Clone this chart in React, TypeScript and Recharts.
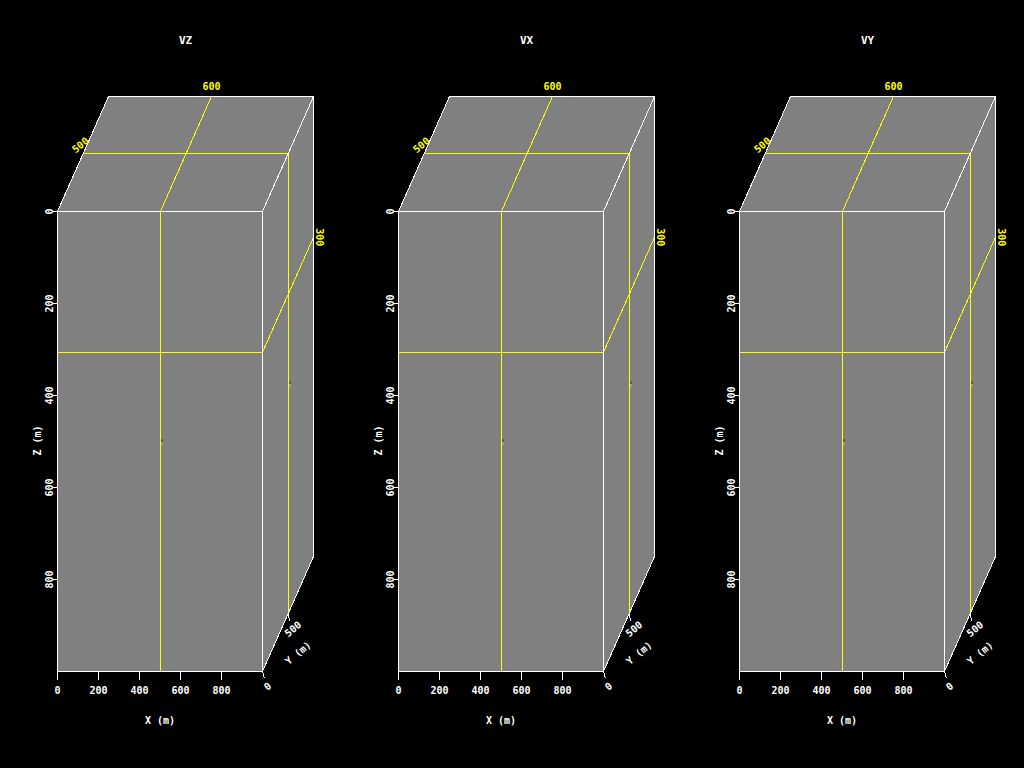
import React from 'react';
import { ComposedChart, XAxis, YAxis, Line, Area, Scatter } from 'recharts';

// ---- data ----
const panelTitles = ['VZ', 'VX', 'VY'];
const cubeExtent = [1000, 1000, 1000]; // x, y, z (m)
const sliceAt = [502, 508, 306]; // x, y, z slice positions
const sliceLabels = ['600', '500', '300']; // labels shown for x, y, z slices
const xTicks = [0, 200, 400, 600, 800];
const zTicks = [0, 200, 400, 600, 800];
const yTicks = [0, 500];
const axisTitles = ['X (m)', 'Y (m)', 'Z (m)'];
const sourcePoint = [500, 500, 500];

// ---- oblique projection (x,y,z) -> (u,v) ----
const KU = 51 / 205;
const KV = 0.25;
const proj = (x: number, y: number, z: number) => ({ u: x + y * KU, v: z - y * KV });
const [XM, YM, ZM] = cubeExtent;
const U_MAX = XM + YM * KU;
const V_MIN = -YM * KV;
const V_MAX = ZM;

const WHITE = '#ffffff';
const YELLOW = '#ffff00';
const GRAY = '#808080';
const FONT = '"DejaVu Sans Mono", monospace';

type P3 = [number, number, number];
// each polyline gets its own value key so that series never share a dataKey
const poly = (key: string, pts: P3[]) =>
  pts.map(([x, y, z]) => {
    const p = proj(x, y, z);
    return { u: p.u, [key]: p.v };
  });

const [SX, SY, SZ] = sliceAt;

const silhouette = [
  { u: 0, r: [0, ZM] },
  { u: YM * KU, r: [V_MIN, ZM] },
  { u: XM, r: [V_MIN, ZM] },
  { u: U_MAX, r: [V_MIN, ZM - YM * KV] },
];

const polylines = [
  { key: 'ys0', color: YELLOW, pts: [[SX, 0, ZM], [SX, 0, 0], [SX, YM, 0]] as P3[] },
  { key: 'ys1', color: YELLOW, pts: [[0, 0, SZ], [XM, 0, SZ], [XM, YM, SZ]] as P3[] },
  { key: 'ys2', color: YELLOW, pts: [[0, SY, 0], [XM, SY, 0], [XM, SY, ZM]] as P3[] },
  {
    key: 'we0',
    color: WHITE,
    pts: [[0, 0, 0], [XM, 0, 0], [XM, 0, ZM], [0, 0, ZM], [0, 0, 0], [0, YM, 0], [XM, YM, 0], [XM, YM, ZM], [XM, 0, ZM]] as P3[],
  },
  { key: 'we1', color: WHITE, pts: [[XM, 0, 0], [XM, YM, 0]] as P3[] },
];

const sourceMarks = [
  { ...proj(sourcePoint[0], 0, sourcePoint[2]) },
  { ...proj(XM, sourcePoint[1], sourcePoint[2]) },
];

const makeLabels = (title: string) => [
  { u: U_MAX / 2, v: V_MIN, text: title, dx: 0, dy: -56, rot: 0, color: WHITE, size: 11, tick: false },
  { ...proj(SX, YM, 0), text: sliceLabels[0], dx: 0, dy: -10, rot: 0, color: YELLOW, size: 10, tick: false },
  { ...proj(0, SY, 0), text: sliceLabels[1], dx: -3, dy: -8, rot: -40, color: YELLOW, size: 10, tick: false },
  { ...proj(XM, YM, SZ), text: sliceLabels[2], dx: 6, dy: 0, rot: 90, color: YELLOW, size: 10, tick: false },
  { ...proj(XM, yTicks[0], ZM), text: String(yTicks[0]), dx: 5, dy: 15, rot: -40, color: WHITE, size: 10, tick: true },
  { ...proj(XM, yTicks[1], ZM), text: String(yTicks[1]), dx: 5, dy: 15, rot: -40, color: WHITE, size: 10, tick: true },
  { ...proj(XM, yTicks[1], ZM), text: axisTitles[1], dx: 10, dy: 39, rot: -40, color: WHITE, size: 10, tick: false },
  { ...proj(XM / 2, 0, ZM), text: axisTitles[0], dx: 0, dy: 49, rot: 0, color: WHITE, size: 10, tick: false },
  { ...proj(0, 0, ZM / 2), text: axisTitles[2], dx: -20, dy: -1, rot: -90, color: WHITE, size: 10, tick: false },
];

const TextShape = (props: any) => {
  const { cx, cy, payload } = props;
  const x = cx + payload.dx;
  const y = cy + payload.dy;
  return (
    <g>
      {payload.tick ? (
        <line x1={cx} y1={cy} x2={cx + 2} y2={cy + 7} stroke={WHITE} strokeWidth={1} shapeRendering="crispEdges" />
      ) : null}
      <text
        x={x}
        y={y}
        transform={payload.rot ? `rotate(${payload.rot} ${x} ${y})` : undefined}
        textAnchor="middle"
        dominantBaseline="central"
        fill={payload.color}
        fontSize={payload.size}
        fontWeight="bold"
        fontFamily={FONT}
      >
        {payload.text}
      </text>
    </g>
  );
};

const MarkShape = (props: any) => {
  const { cx, cy } = props;
  return (
    <g shapeRendering="crispEdges">
      <rect x={cx + 1} y={cy - 3} width={2} height={3} fill="#5c5c5c" />
      <rect x={cx + 1} y={cy} width={2} height={3} fill="#9a9a9a" />
    </g>
  );
};

const XTick = (props: any) => {
  const { x, y, payload } = props;
  return (
    <text x={x} y={y + 9} textAnchor="middle" dominantBaseline="central" fill={WHITE} fontSize={10} fontWeight="bold" fontFamily={FONT}>
      {payload.value}
    </text>
  );
};

const ZTick = (props: any) => {
  const { x, y, payload } = props;
  const tx = x - 1;
  return (
    <text
      x={tx}
      y={y}
      transform={`rotate(-90 ${tx} ${y})`}
      textAnchor="middle"
      dominantBaseline="central"
      fill={WHITE}
      fontSize={10}
      fontWeight="bold"
      fontFamily={FONT}
    >
      {payload.value}
    </text>
  );
};

const Panel = ({ title, idx }: { title: string; idx: number }) => {
  const labels = makeLabels(title);
  return (
    <ComposedChart width={341} height={768} margin={{ top: 96.5, right: 27.5, bottom: 66.5, left: 27.5 }}>
      <XAxis
        dataKey="u"
        type="number"
        domain={[0, U_MAX]}
        ticks={xTicks}
        axisLine={false}
        tickLine={{ stroke: WHITE, shapeRendering: 'crispEdges' }}
        tickSize={8}
        height={30}
        tick={<XTick />}
        interval={0}
      />
      <YAxis
        dataKey="v"
        type="number"
        domain={[V_MIN, V_MAX]}
        reversed
        ticks={zTicks}
        axisLine={false}
        tickLine={{ stroke: WHITE, shapeRendering: 'crispEdges' }}
        tickSize={5}
        width={30}
        tick={<ZTick />}
        interval={0}
      />
      <Area
        id={`fill-${idx}`}
        data={silhouette}
        dataKey="r"
        type="linear"
        fill={GRAY}
        fillOpacity={1}
        stroke="none"
        isAnimationActive={false}
        activeDot={false}
      />
      <Scatter id={`src-${idx}`} data={sourceMarks} shape={<MarkShape />} isAnimationActive={false} />
      {polylines.map((pl) => (
        <Line
          key={pl.key}
          id={`${pl.key}-${idx}`}
          data={poly(pl.key, pl.pts)}
          dataKey={pl.key}
          type="linear"
          stroke={pl.color}
          strokeWidth={1}
          dot={false}
          activeDot={false}
          isAnimationActive={false}
          shapeRendering="crispEdges"
        />
      ))}
      <Scatter id={`lab-${idx}`} data={labels} shape={<TextShape />} isAnimationActive={false} />
    </ComposedChart>
  );
};

export default function App() {
  return (
    <div
      style={{
        position: 'absolute',
        left: 0,
        top: 0,
        width: 1024,
        height: 768,
        background: '#000000',
        display: 'flex',
        flexDirection: 'row',
        overflow: 'hidden',
      }}
    >
      {panelTitles.map((t, i) => (
        <Panel key={t} title={t} idx={i} />
      ))}
    </div>
  );
}
